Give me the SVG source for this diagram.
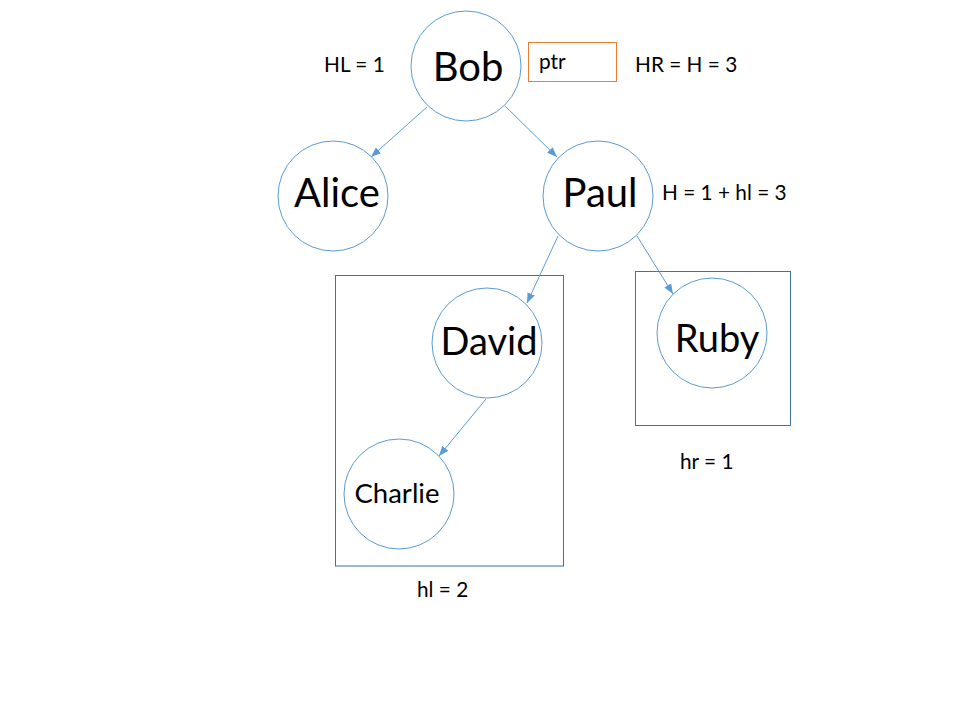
<svg xmlns="http://www.w3.org/2000/svg" width="960" height="720" viewBox="0 0 960 720">
<defs>
<marker id="ah" markerUnits="userSpaceOnUse" markerWidth="10" markerHeight="8" refX="10" refY="4" orient="auto">
<path d="M0,0 L10,4 L0,8 Z" fill="#5B9BD5"/>
</marker>
<style>
.n{fill:#fff;stroke:#5B9BD5;stroke-width:1}
.t{font-family:Lato,"Open Sans",sans-serif;fill:#000;text-anchor:middle}
.big{font-size:40px}
.mid{font-size:38px}
.sm{font-size:27.5px}
.lab{font-family:Lato,"Open Sans",sans-serif;font-size:20.8px;fill:#000}
.e{stroke:#5B9BD5;stroke-width:1;fill:none;marker-end:url(#ah)}
.box{fill:none;stroke:#41719C;stroke-width:1}
</style>
</defs>
<rect width="960" height="720" fill="#fff"/>
<g id="boxes">
<rect class="box" x="335.5" y="275.5" width="228" height="290.5"/>
<rect class="box" x="635.5" y="271.5" width="155" height="154"/>
</g>
<g id="connectors">
<line class="e" x1="427" y1="107" x2="371" y2="157"/>
<line class="e" x1="505" y1="106" x2="557" y2="157"/>
<line class="e" x1="558" y1="236" x2="527" y2="303"/>
<line class="e" x1="637" y1="236" x2="673" y2="294"/>
<line class="e" x1="486" y1="399" x2="439" y2="456"/>
</g>
<g id="bob"><circle class="n" cx="466" cy="66" r="55"/><text class="t big" x="468" y="81">Bob</text></g>
<g id="alice"><circle class="n" cx="333" cy="196" r="55"/><text class="t big" x="337" y="207">Alice</text></g>
<g id="paul"><circle class="n" cx="598" cy="196" r="55"/><text class="t big" x="600" y="207">Paul</text></g>
<g id="david"><circle class="n" cx="487" cy="343" r="55"/><text class="t mid" x="489" y="355">David</text></g>
<g id="ruby"><circle class="n" cx="712" cy="333" r="55"/><text class="t mid" x="717" y="352">Ruby</text></g>
<g id="charlie"><circle class="n" cx="399" cy="494" r="55"/><text class="t sm" x="397" y="503">Charlie</text></g>
<g id="ptr"><rect x="528.5" y="42.5" width="88" height="39" fill="#fff" stroke="#ED7D31" stroke-width="1"/><text class="lab" x="539" y="69">ptr</text></g>
<g id="labels">
<text class="lab" x="324" y="72">HL = 1</text>
<text class="lab" x="635" y="72">HR = H = 3</text>
<text class="lab" x="662" y="200">H = 1 + hl = 3</text>
<text class="lab" x="680" y="469">hr = 1</text>
<text class="lab" x="417" y="597">hl = 2</text>
</g>
</svg>
